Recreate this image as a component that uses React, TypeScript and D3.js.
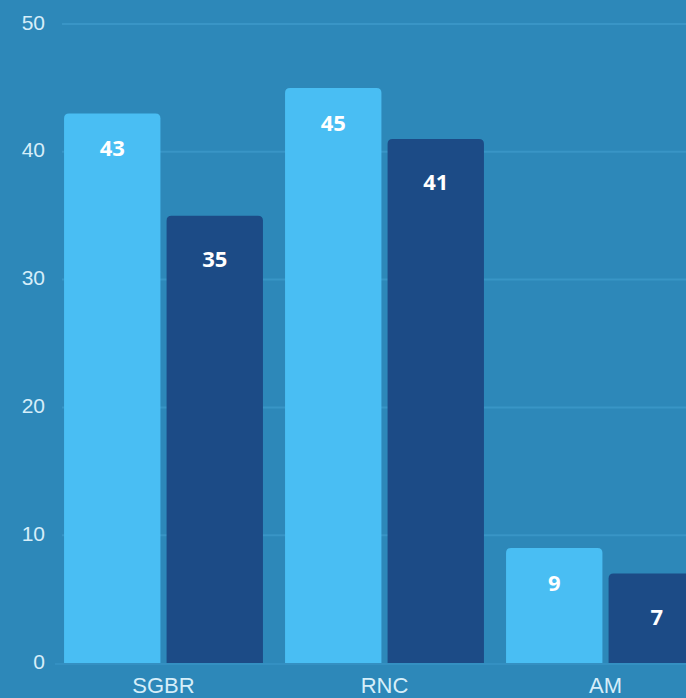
import React from "react";
import * as d3 from "d3";

const categories = ["SGBR", "RNC", "AM"];
const seriesNames = ["A", "B"];
const seriesA = [43, 45, 9];
const seriesB = [35, 41, 7];
const yTicks = [0, 10, 20, 30, 40, 50];

const W = 686;
const H = 698;
const BG = "#2d88b9";
const LIGHT = "#49bef3";
const DARK = "#1c4b86";
const GRID = "#3995c6";

export default function App() {
  const y = d3.scaleLinear().domain([0, 50]).range([663, 24]);
  const x0 = d3.scaleBand<string>().domain(categories).range([53, 716]).paddingInner(0.1).paddingOuter(0.05);
  const x1 = d3.scaleBand<string>().domain(seriesNames).range([0, x0.bandwidth()]).paddingInner(0.06);
  const colors = [LIGHT, DARK];
  const labelOffsets = [43, 51];
  const data = categories.map((c, i) => ({ c, vals: [seriesA[i], seriesB[i]] }));
  const r = 5;

  const barPath = (x: number, w: number, top: number, bottom: number) => {
    return `M${x},${bottom}V${top + r}Q${x},${top} ${x + r},${top}H${x + w - r}Q${x + w},${top} ${x + w},${top + r}V${bottom}Z`;
  };

  return (
    <svg width={W} height={H} style={{ position: "absolute", left: 0, top: 0, display: "block" }}>
      <rect x={0} y={0} width={W} height={H} fill={BG} />
      {yTicks.map((t) => (
        <g key={t}>
          {t > 0 && <line x1={62} x2={W} y1={y(t)} y2={y(t)} stroke={GRID} strokeWidth={2} />}
          <text
            x={45}
            y={y(t)}
            textAnchor="end"
            dominantBaseline="middle"
            fill="#d6eef9"
            fontFamily="Liberation Sans, Arial, sans-serif"
            fontSize={21}
          >
            {t}
          </text>
        </g>
      ))}
      <line x1={55} x2={W} y1={y(0) + 1} y2={y(0) + 1} stroke="#3490c2" strokeWidth={2} />
      {data.map((d) => (
        <g key={d.c} transform={`translate(${x0(d.c)},0)`}>
          {d.vals.map((v, j) => {
            const bx = x1(seriesNames[j])!;
            const bw = x1.bandwidth();
            return (
              <g key={j}>
                <path d={barPath(bx, bw, y(v), y(0))} fill={colors[j]} />
                <text
                  x={bx + bw / 2}
                  y={y(v) + labelOffsets[j]}
                  textAnchor="middle"
                  fill="#ffffff"
                  fontFamily="Open Sans, sans-serif"
                  fontWeight="bold"
                  fontSize={22}
                >
                  {v}
                </text>
              </g>
            );
          })}
          <text
            x={x0.bandwidth() / 2}
            y={693}
            textAnchor="middle"
            fill="#d6eef9"
            fontFamily="Liberation Sans, Arial, sans-serif"
            fontSize={22}
          >
            {d.c}
          </text>
        </g>
      ))}
    </svg>
  );
}
